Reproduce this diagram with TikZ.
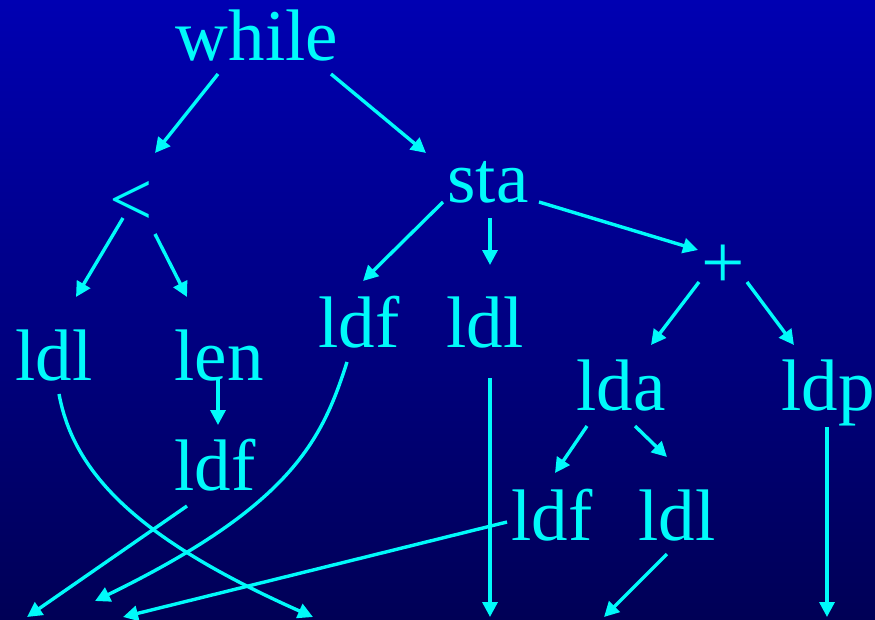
\documentclass[tikz,border=0pt]{standalone}
\usepackage{fontspec}
\setmainfont{Liberation Serif}
\usetikzlibrary{arrows.meta,calc}
\definecolor{topblue}{RGB}{0,0,178}
\definecolor{botblue}{RGB}{0,0,86}
\definecolor{cy}{RGB}{0,250,250}
\begin{document}
\begin{tikzpicture}[x=1pt,y=-1pt,
  lab/.style={anchor=base,inner sep=0pt,text=cy,font=\fontsize{73}{80}\selectfont},
  sym/.style={lab,font=\fontsize{77}{80}\selectfont},
  arr/.style={draw=cy,line width=3.4pt,-{Triangle[length=15pt,width=15pt]}}]
\useasboundingbox (0,0) rectangle (875,619);
\shade[top color=topblue,bottom color=botblue] (0,0) rectangle (875,619);
% nodes
\node[lab] (while) at (257,60) {while};
\node[sym] (lt) at (131,225) {<};
\node[lab] (sta) at (488,202) {sta};
\node[sym] (plus) at (723,288) {+};
\node[lab] (ldlA) at (54,380) {ldl};
\node[lab] (len) at (219,380) {len};
\node[lab] (ldfA) at (215,490) {ldf};
\node[lab] (ldfB) at (359,347) {ldf};
\node[lab] (ldlB) at (485,347) {ldl};
\node[lab] (lda) at (621,410) {lda};
\node[lab] (ldp) at (828,410) {ldp};
\node[lab] (ldfC) at (552,540) {ldf};
\node[lab] (ldlC) at (677,540) {ldl};
% free ends
\coordinate (e1) at (27,617);
\coordinate (e2) at (95,601);
\coordinate (e3) at (123,617);
\coordinate (e4) at (313,617);
\coordinate (e5) at (490,617);
\coordinate (e6) at (604,617);
\coordinate (e7) at (827,617);
% tree edges
\draw[arr] ($(while.base)+(-39,14)$) -- ($(lt.base)+(24,-72)$);
\draw[arr] ($(while.base)+(74,14)$) -- ($(sta.base)+(-62,-49)$);
\draw[arr] ($(lt.base)+(-8,-7)$) -- ($(ldlA.base)+(22,-83)$);
\draw[arr] ($(lt.base)+(24,9)$) -- ($(len.base)+(-32,-83)$);
\draw[arr] ($(sta.base)+(-45,0)$) -- ($(ldfB.base)+(4,-66)$);
\draw[arr] ($(sta.base)+(2,16)$) -- ($(ldlB.base)+(5,-82)$);
\draw[arr] ($(sta.base)+(51,0)$) -- ($(plus.base)+(-25,-38)$);
\draw[arr] ($(plus.base)+(-24,-6)$) -- ($(lda.base)+(30,-65)$);
\draw[arr] ($(plus.base)+(24,-6)$) -- ($(ldp.base)+(-34,-65)$);
\draw[arr] ($(len.base)+(-1,-2)$) -- ($(ldfA.base)+(3,-65)$);
\draw[arr] ($(lda.base)+(-34,16)$) -- ($(ldfC.base)+(3,-67)$);
\draw[arr] ($(lda.base)+(14,16)$) -- ($(ldlC.base)+(-10,-83)$);
% links to the bottom
\draw[arr] ($(ldp.base)+(-1,17)$) -- (e7);
\draw[arr] ($(ldlB.base)+(5,31)$) -- (e5);
\draw[arr] ($(ldlC.base)+(-10,14)$) -- (e6);
\draw[arr] ($(ldfC.base)+(-45,-18)$) -- (e3);
\draw[arr] ($(ldfA.base)+(-28,16)$) -- (e1);
\draw[arr] ($(ldlA.base)+(5,14)$) .. controls (74,475) and (140,540) .. (e4);
\draw[arr] ($(ldfB.base)+(-12,15)$) .. controls (322,440) and (292,505) .. (e2);
\end{tikzpicture}
\end{document}
